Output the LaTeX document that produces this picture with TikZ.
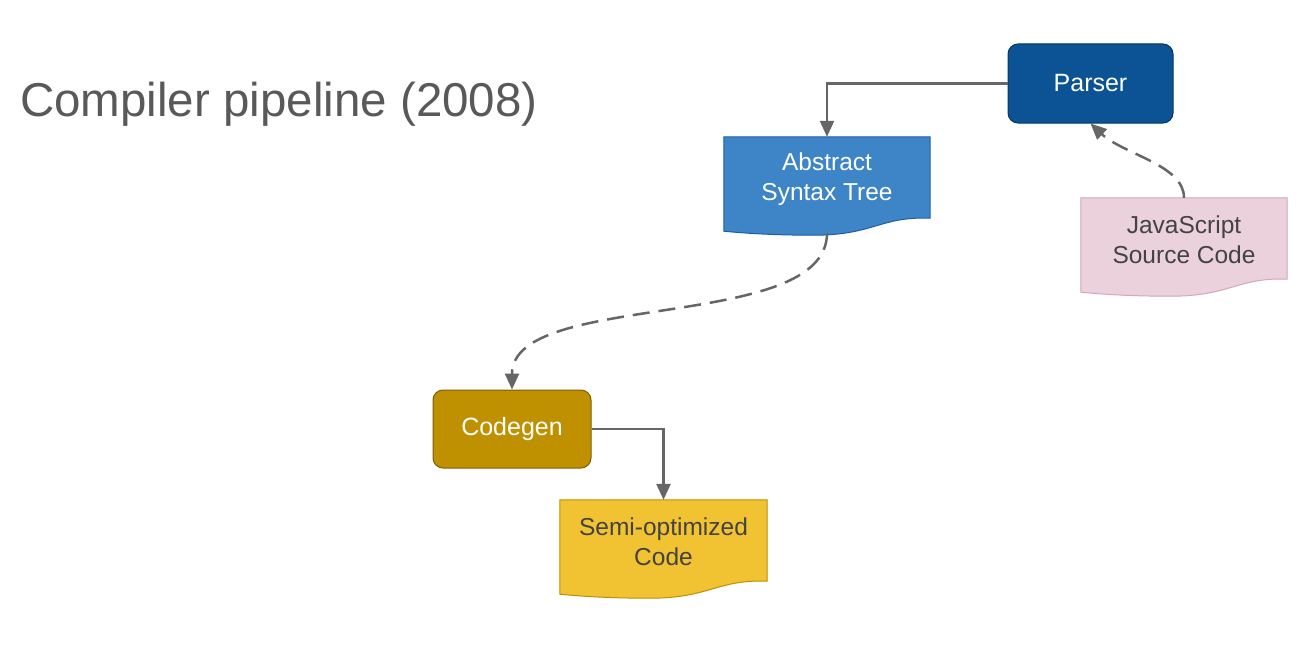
\documentclass[tikz,border=0pt]{standalone}
\usepackage{fontspec}
\setmainfont{Liberation Sans}
\usetikzlibrary{arrows.meta,calc,backgrounds}
\definecolor{parserfill}{HTML}{0B5394}
\definecolor{parserdraw}{HTML}{073763}
\definecolor{astfill}{HTML}{3D85C6}
\definecolor{astdraw}{HTML}{1C5FA8}
\definecolor{codegenfill}{HTML}{BF9000}
\definecolor{codegendraw}{HTML}{7F6000}
\definecolor{semifill}{HTML}{F1C232}
\definecolor{semidraw}{HTML}{BF9000}
\definecolor{jsfill}{HTML}{EAD1DC}
\definecolor{jsdraw}{HTML}{D5A6BD}
\definecolor{titlegray}{HTML}{595959}
\definecolor{darktext}{HTML}{434343}
\definecolor{conngray}{HTML}{666666}
\tikzset{
  proc/.style={rectangle, rounded corners=10pt, line width=1pt, inner sep=0pt,
    font=\fontsize{25}{30}\selectfont, text=white},
  doctext/.style={rectangle, inner sep=0pt, minimum width=206pt, minimum height=84pt,
    align=center, font=\fontsize{24.5}{30}\selectfont},
  conn/.style={draw=conngray, line width=2.5pt, -{Triangle[length=16pt,width=14pt]}},
  dashconn/.style={conn, dash pattern=on 17pt off 9pt},
}
\newcommand\docoutline[3]{%
  \begin{pgfonlayer}{background}
  \draw[fill=#2, draw=#3, line width=1pt]
    (#1.north west) -- (#1.north east) -- ($(#1.south east)+(0,-3)$)
    .. controls ($(#1.south east)+(-50,-5)$) and ($(#1.south west)+(150,14)$) .. ($(#1.south west)+(90,14)$)
    .. controls ($(#1.south west)+(50,14)$) and ($(#1.south west)+(20,12)$) .. ($(#1.south west)+(0,10)$)
    -- cycle;
  \end{pgfonlayer}}
\begin{document}
\begin{tikzpicture}[x=1pt,y=-1pt]
\begin{pgfonlayer}{background}
\fill[white] (0,0) rectangle (1299,661);
\end{pgfonlayer}
\useasboundingbox (0,0) rectangle (1299,661);

\node[anchor=base west, text=titlegray, font=\fontsize{47.5}{52}\selectfont, inner sep=0pt] (title) at (20,116) {Compiler pipeline (2008)};

\node[proc, fill=parserfill, draw=parserdraw, minimum width=165pt, minimum height=79pt] (parser) at (1090.5,83.5) {Parser};
\node[proc, fill=codegenfill, draw=codegendraw, minimum width=158pt, minimum height=78pt] (codegen) at (512,429) {Codegen};

\node[doctext, text=white] (ast) at (827,179) {Abstract\\Syntax Tree};
\docoutline{ast}{astfill}{astdraw}
\node[doctext, text=darktext] (js) at (1184,240) {JavaScript\\Source Code};
\docoutline{js}{jsfill}{jsdraw}
\node[doctext, text=darktext, minimum width=207pt] (semi) at (663.5,542) {Semi-optimized\\Code};
\docoutline{semi}{semifill}{semidraw}

\coordinate (astb) at ($(ast.south)+(0,12)$);

\draw[conn] (parser.west) -| (ast.north);
\draw[conn] (codegen.east) -| (semi.north);
\draw[dashconn] (astb) .. controls +(0,100) and +(0,-100) .. (codegen.north);
\draw[dashconn] (js.north) .. controls +(0,-33) and +(33,31) .. (parser.south);
\end{tikzpicture}
\end{document}
